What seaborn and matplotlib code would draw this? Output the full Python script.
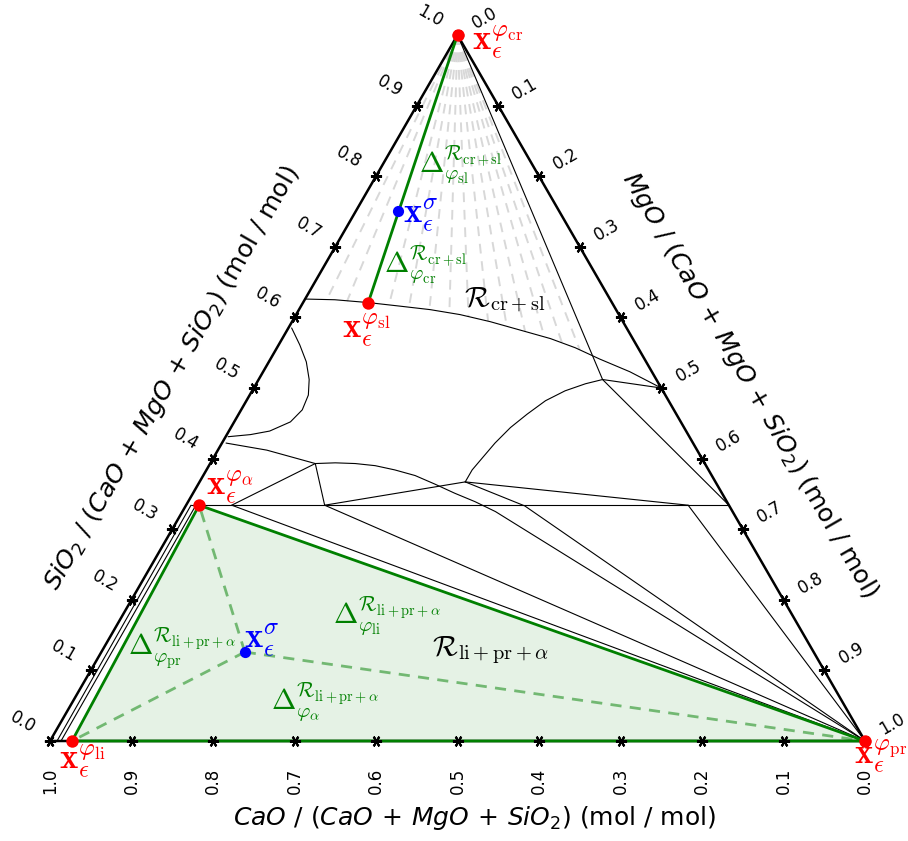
import numpy as np
import matplotlib
matplotlib.use("Agg")
import matplotlib.pyplot as plt
import seaborn as sns

# ---------------- data (mole fractions: MgO, SiO2; CaO = 1 - MgO - SiO2) ----------------
tick_values = [0.0, 0.1, 0.2, 0.3, 0.4, 0.5, 0.6, 0.7, 0.8, 0.9, 1.0]
tick_labels = ["0.0", "0.1", "0.2", "0.3", "0.4", "0.5", "0.6", "0.7", "0.8", "0.9", "1.0"]

# phase points (MgO, SiO2)
pt_cr = (0.000, 1.000)
pt_sl = (0.080, 0.621)
pt_sigma_top = (0.052, 0.751)
pt_alpha = (0.016, 0.334)
pt_li = (0.027, 0.000)
pt_pr = (1.000, 0.000)
pt_sigma_bot = (0.176, 0.126)

# phase boundaries
liquidus_mgo = [0.000, 0.037, 0.080, 0.121, 0.161, 0.201, 0.243, 0.286, 0.329, 0.366, 0.404, 0.450, 0.500]
liquidus_sio2 = [0.626, 0.625, 0.621, 0.616, 0.611, 0.604, 0.594, 0.582, 0.570, 0.557, 0.541, 0.523, 0.500]
cr_e_mgo = [0.000, 0.422]
cr_e_sio2 = [1.000, 0.512]
e_en_mgo = [0.422, 0.500]
e_en_sio2 = [0.512, 0.500]
e_fo_mgo = [0.422, 0.666]
e_fo_sio2 = [0.512, 0.334]
arc_be_mgo = [0.326, 0.326, 0.330, 0.335, 0.343, 0.354, 0.367, 0.384, 0.404, 0.422]
arc_be_sio2 = [0.367, 0.384, 0.401, 0.422, 0.444, 0.463, 0.482, 0.496, 0.506, 0.512]
b_g_mgo = [0.326, 0.616]
b_g_sio2 = [0.367, 0.334]
g_pr_mgo = [0.616, 1.000]
g_pr_sio2 = [0.334, 0.000]
tie_mgo = [0.006, 0.666]
tie_sio2 = [0.334, 0.334]
bulge_mgo = [0.004, 0.026, 0.046, 0.062, 0.072, 0.075, 0.069, 0.050, 0.029, 0.003]
bulge_sio2 = [0.585, 0.561, 0.537, 0.512, 0.490, 0.469, 0.452, 0.439, 0.434, 0.431]
j_a_mgo = [0.005, 0.060, 0.129]
j_a_sio2 = [0.422, 0.412, 0.393]
arc_a_mgo = [0.129, 0.153, 0.178, 0.204, 0.231, 0.260, 0.290, 0.321, 0.352, 0.384, 1.000]
arc_a_sio2 = [0.393, 0.394, 0.393, 0.390, 0.384, 0.376, 0.364, 0.351, 0.339, 0.325, 0.000]
b_k_mgo = [0.326, 0.416, 1.000]
b_k_sio2 = [0.367, 0.333, 0.000]
d_a_mgo = [0.056, 0.129]
d_a_sio2 = [0.334, 0.393]
a_c_mgo = [0.129, 0.170]
a_c_sio2 = [0.393, 0.334]
c_b_mgo = [0.170, 0.326]
c_b_sio2 = [0.334, 0.367]
c_pr_mgo = [0.170, 1.000]
c_pr_sio2 = [0.334, 0.000]
d_pr_mgo = [0.056, 1.000]
d_pr_sio2 = [0.334, 0.000]
edge1_mgo = [0.0086, 0.006]
edge1_sio2 = [0.000, 0.334]
edge2_mgo = [0.0135, 0.012]
edge2_sio2 = [0.000, 0.334]

# tie-line fan ends on the liquidus (from cr vertex)
fan_mgo = [0.027, 0.053, 0.107, 0.133, 0.160, 0.187, 0.213, 0.240, 0.267, 0.293, 0.320, 0.347, 0.373]
fan_sio2 = [0.625, 0.623, 0.618, 0.615, 0.611, 0.606, 0.601, 0.595, 0.587, 0.580, 0.573, 0.563, 0.554]

# ---------------- figure ----------------
W, H = 908, 841
sns.set_theme(style="white")
plt.rcParams["font.family"] = ["DejaVu Sans"]
plt.rcParams["mathtext.fontset"] = "cm"
plt.rcParams["text.color"] = "black"

fig = plt.figure(figsize=(W / 100, H / 100), dpi=100)
ax = fig.add_axes([50 / W, 100 / H, 815 / W, 706 / H])
ax.set_xlim(0, 1)
ax.set_ylim(0, np.sqrt(3) / 2)
ax.axis("off")

R3 = np.sqrt(3) / 2
GREEN = "#008000"


def tx(m, s):
    return np.asarray(m, float) + np.asarray(s, float) / 2


def ty(s):
    return np.asarray(s, float) * R3


def line(mgo, sio2, **kw):
    kw.setdefault("clip_on", False)
    sns.lineplot(x=tx(mgo, sio2), y=ty(sio2), sort=False, estimator=None,
                 ax=ax, legend=False, **kw)


def px_text(x, y, s, **kw):
    fig.text(x / W, 1 - y / H, s, ha=kw.pop("ha", "center"), va=kw.pop("va", "center"),
             color=kw.pop("color", "black"), **kw)


# green filled region
tri_m = [pt_li[0], pt_alpha[0], pt_pr[0]]
tri_s = [pt_li[1], pt_alpha[1], pt_pr[1]]
ax.fill(tx(tri_m, tri_s), ty(tri_s), color=GREEN, alpha=0.1, lw=0, zorder=1)

# grey fan
for fm, fs in zip(fan_mgo, fan_sio2):
    line([pt_cr[0], fm], [pt_cr[1], fs], color="#d8d8d8", linewidth=1.4,
         linestyle=(0, (5, 4)), zorder=2)

# thin black boundaries
thin = dict(color="black", linewidth=0.8, zorder=3)
for mg, si in [(liquidus_mgo, liquidus_sio2), (cr_e_mgo, cr_e_sio2), (e_en_mgo, e_en_sio2),
               (e_fo_mgo, e_fo_sio2), (arc_be_mgo, arc_be_sio2), (b_g_mgo, b_g_sio2),
               (g_pr_mgo, g_pr_sio2), (tie_mgo, tie_sio2), (bulge_mgo, bulge_sio2),
               (j_a_mgo, j_a_sio2), (arc_a_mgo, arc_a_sio2), (b_k_mgo, b_k_sio2),
               (d_a_mgo, d_a_sio2), (a_c_mgo, a_c_sio2), (c_b_mgo, c_b_sio2),
               (c_pr_mgo, c_pr_sio2), (d_pr_mgo, d_pr_sio2), (edge1_mgo, edge1_sio2),
               (edge2_mgo, edge2_sio2)]:
    line(mg, si, **thin)

# triangle axes
line([0, 1, 0, 0], [0, 0, 1, 0], color="black", linewidth=1.8, zorder=4)

# green lines
line([pt_cr[0], pt_sl[0]], [pt_cr[1], pt_sl[1]], color=GREEN, linewidth=2, zorder=5)
line([pt_li[0], pt_alpha[0], pt_pr[0], pt_li[0]], [pt_li[1], pt_alpha[1], pt_pr[1], pt_li[1]],
     color=GREEN, linewidth=2, zorder=5)
for v in (pt_li, pt_alpha, pt_pr):
    line([pt_sigma_bot[0], v[0]], [pt_sigma_bot[1], v[1]], color=GREEN, alpha=0.5,
         linewidth=2, linestyle=(0, (4, 3)), zorder=5)

# ticks
tv = np.array(tick_values)
for xs, ys in [(tx(1 - tv, 0 * tv), ty(0 * tv)), (tx(0 * tv, tv), ty(tv)), (tx(tv, 1 - tv), ty(1 - tv))]:
    ax.plot(xs, ys, ls="none", marker=(6, 2, 30), ms=8, mew=1.5,
            color="black", clip_on=False, zorder=6)

k = 0.72  # px -> pt
for v, lab in zip(tick_values, tick_labels):
    ax.annotate(lab, (tx(1 - v, 0), ty(0)), xytext=(0, -40 * k), textcoords="offset points",
                rotation=90, ha="center", va="center", fontsize=12, annotation_clip=False)
    ax.annotate(lab, (tx(0, v), ty(v)), xytext=(-27 * k, 19 * k), textcoords="offset points",
                rotation=-30, ha="center", va="center", fontsize=12, annotation_clip=False)
    ax.annotate(lab, (tx(v, 1 - v), ty(1 - v)), xytext=(27 * k, 17 * k), textcoords="offset points",
                rotation=30, ha="center", va="center", fontsize=12, annotation_clip=False)

# points
red_m = [pt_cr[0], pt_sl[0], pt_alpha[0], pt_li[0], pt_pr[0]]
red_s = [pt_cr[1], pt_sl[1], pt_alpha[1], pt_li[1], pt_pr[1]]
sns.scatterplot(x=tx(red_m, red_s), y=ty(red_s), color="red", s=80, linewidth=0,
                ax=ax, clip_on=False, zorder=8, legend=False)
blue_m = [pt_sigma_top[0], pt_sigma_bot[0]]
blue_s = [pt_sigma_top[1], pt_sigma_bot[1]]
sns.scatterplot(x=tx(blue_m, blue_s), y=ty(blue_s), color="blue", s=65, linewidth=0,
                ax=ax, clip_on=False, zorder=8, legend=False)

# point labels
fs_lab = 25
px_text(498, 42, r"$\mathbf{x}_{\epsilon}^{\varphi_{\mathrm{cr}}}$", color="red", fontsize=fs_lab)
px_text(366, 330, r"$\mathbf{x}_{\epsilon}^{\varphi_{\mathrm{sl}}}$", color="red", fontsize=fs_lab)
px_text(230, 487, r"$\mathbf{x}_{\epsilon}^{\varphi_{\alpha}}$", color="red", fontsize=fs_lab)
px_text(82, 761, r"$\mathbf{x}_{\epsilon}^{\varphi_{\mathrm{li}}}$", color="red", fontsize=fs_lab)
px_text(881, 756, r"$\mathbf{x}_{\epsilon}^{\varphi_{\mathrm{pr}}}$", color="red", fontsize=fs_lab)
px_text(421, 215, r"$\mathbf{x}_{\epsilon}^{\sigma}$", color="blue", fontsize=fs_lab)
px_text(262, 640, r"$\mathbf{x}_{\epsilon}^{\sigma}$", color="blue", fontsize=fs_lab)

fs_d = 21
px_text(461, 166, r"$\Delta_{\varphi_{\mathrm{sl}}}^{\mathcal{R}_{\mathrm{cr+sl}}}$", color=GREEN, fontsize=fs_d)
px_text(426, 266, r"$\Delta_{\varphi_{\mathrm{cr}}}^{\mathcal{R}_{\mathrm{cr+sl}}}$", color=GREEN, fontsize=fs_d)
px_text(387, 617, r"$\Delta_{\varphi_{\mathrm{li}}}^{\mathcal{R}_{\mathrm{li+pr+}\alpha}}$", color=GREEN, fontsize=fs_d)
px_text(182, 650, r"$\Delta_{\varphi_{\mathrm{pr}}}^{\mathcal{R}_{\mathrm{li+pr+}\alpha}}$", color=GREEN, fontsize=fs_d)
px_text(325, 703, r"$\Delta_{\varphi_{\alpha}}^{\mathcal{R}_{\mathrm{li+pr+}\alpha}}$", color=GREEN, fontsize=fs_d)
px_text(505, 300, r"$\mathcal{R}_{\mathrm{cr+sl}}$", fontsize=21)
px_text(491, 650, r"$\mathcal{R}_{\mathrm{li+pr+}\alpha}$", fontsize=21)

# axis titles
fs_t = 18
px_text(474, 818, r"$\mathit{CaO\ /\ (CaO\,+\,MgO\,+\,SiO_2)}$ (mol / mol)",
        fontsize=fs_t, math_fontfamily="dejavusans")
px_text(172, 378, r"$\mathit{SiO_2\ /\ (CaO\,+\,MgO\,+\,SiO_2)}$ (mol / mol)",
        fontsize=fs_t, rotation=60, rotation_mode="anchor", math_fontfamily="dejavusans")
px_text(750, 385, r"$\mathit{MgO\ /\ (CaO\,+\,MgO\,+\,SiO_2)}$ (mol / mol)",
        fontsize=fs_t, rotation=-60, rotation_mode="anchor", math_fontfamily="dejavusans")

fig.savefig("out.png", dpi=100)
